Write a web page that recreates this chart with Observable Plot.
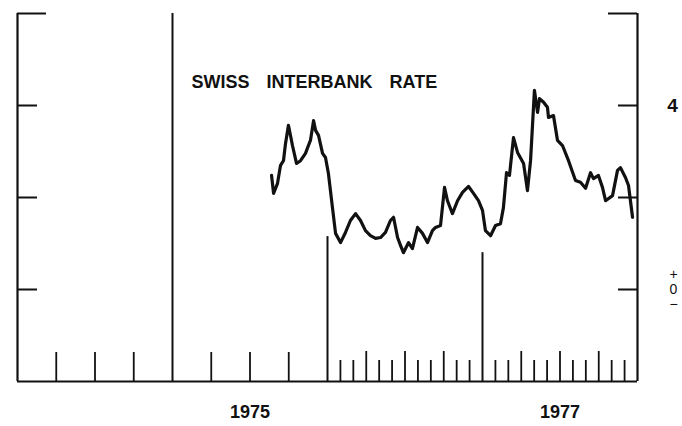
<!DOCTYPE html>
<html><head><meta charset="utf-8">
<script src="https://cdn.jsdelivr.net/npm/d3@7"></script>
<script src="https://cdn.jsdelivr.net/npm/@observablehq/plot@0.6"></script>
<style>
body{margin:0;background:#fff;}
#chart svg{display:block;}
#chart svg text{word-spacing:12px;}
</style></head><body><div id="chart"></div>
<script>
// ---- data ----
const titleText = "SWISS INTERBANK RATE";
// decimal-year dates of the plotted points
const dates = [1975.639,1975.652,1975.677,1975.697,1975.716,1975.729,1975.748,1975.774,1975.800,1975.826,
  1975.858,1975.877,1975.890,1975.910,1975.923,1975.942,1975.968,1975.987,1976.006,1976.032,
  1976.052,1976.084,1976.116,1976.148,1976.181,1976.213,1976.245,1976.277,1976.310,1976.342,
  1976.374,1976.406,1976.426,1976.452,1976.471,1976.490,1976.523,1976.548,1976.581,1976.613,
  1976.645,1976.677,1976.697,1976.729,1976.755,1976.774,1976.806,1976.839,1976.871,1976.910,
  1976.942,1976.974,1977.000,1977.019,1977.052,1977.084,1977.116,1977.135,1977.155,1977.174,
  1977.200,1977.226,1977.265,1977.290,1977.310,1977.335,1977.355,1977.368,1977.394,1977.419,
  1977.426,1977.458,1977.484,1977.516,1977.555,1977.600,1977.632,1977.665,1977.697,1977.716,
  1977.748,1977.774,1977.794,1977.839,1977.871,1977.890,1977.923,1977.942,1977.968];
const rates = [2.48,2.09,2.30,2.70,2.80,3.17,3.57,3.13,2.74,2.80,
  2.96,3.13,3.24,3.67,3.46,3.35,2.96,2.87,2.52,1.78,
  1.22,1.02,1.24,1.50,1.65,1.50,1.28,1.17,1.11,1.13,
  1.24,1.50,1.57,1.13,0.96,0.80,1.02,0.89,1.35,1.22,
  1.02,1.28,1.35,1.39,2.22,1.93,1.65,1.93,2.11,2.24,
  2.09,1.93,1.72,1.28,1.17,1.39,1.43,1.78,2.54,2.48,
  3.30,2.98,2.74,2.15,2.80,4.33,3.85,4.15,4.07,3.96,
  3.74,3.78,3.24,3.13,2.80,2.37,2.33,2.20,2.54,2.41,
  2.48,2.22,1.93,2.04,2.59,2.65,2.43,2.26,1.57];

const xDomain = [1974, 1978];
const yDomain = [-2, 6];
const yearLabelX = [1975.5, 1977.5];
const yearLabelText = ["1975", "1977"];
const quarterTicksEarly = [1974.25, 1974.5, 1974.75, 1975.25, 1975.5, 1975.75];
const quarterTicksLate = [1976.25, 1976.5, 1976.75, 1977.25, 1977.5, 1977.75];
const monthTicks = [1,2,4,5,7,8,10,11].flatMap(m => [1976 + m/12, 1977 + m/12]);
const yearLineX = [1976, 1977];
const yearLineTop = [1.15, 0.80];
const fullYearLine = [1975];
const sideTicks = [0, 2, 4];
const topTick = [6];
const rightNumberV = [4];
const rightNumberText = ["4"];
const rightSignV = [0];
const rightSignText = ["+\n0\n\u2212"];

const pts = dates.map((d, i) => ({date: d, rate: rates[i]}));
const yearLines = yearLineX.map((x, i) => ({x, top: yearLineTop[i]}));
const yearLabels = yearLabelX.map((x, i) => ({x, label: yearLabelText[i]}));
const ink = "#111";

const plot = Plot.plot({
  width: 682, height: 426,
  marginLeft: 17, marginRight: 45, marginTop: 13, marginBottom: 45,
  x: {domain: xDomain, axis: null},
  y: {domain: yDomain, axis: null},
  style: {fontFamily: "Liberation Sans, Arial, sans-serif", background: "#fff", color: ink},
  marks: [
    // frame: left, right, bottom
    Plot.ruleX(xDomain, {y1: yDomain[0], y2: yDomain[1], stroke: ink, strokeWidth: 2.2}),
    Plot.ruleY([yDomain[0]], {x1: xDomain[0], x2: xDomain[1], stroke: ink, strokeWidth: 2.2}),
    // left ticks
    Plot.tickY(sideTicks, {y: d => d, stroke: ink, strokeWidth: 2, insetRight: 600}),
    Plot.tickY(topTick, {y: d => d, stroke: ink, strokeWidth: 2, insetRight: 591}),
    // right ticks
    Plot.tickY(sideTicks, {y: d => d, stroke: ink, strokeWidth: 2, insetLeft: 601}),
    Plot.tickY(topTick, {y: d => d, stroke: ink, strokeWidth: 2, insetLeft: 591}),
    // bottom ticks
    Plot.tickX(quarterTicksEarly, {x: d => d, stroke: ink, strokeWidth: 1.8, insetTop: 339}),
    Plot.tickX(quarterTicksLate, {x: d => d, stroke: ink, strokeWidth: 1.8, insetTop: 338}),
    Plot.tickX(monthTicks, {x: d => d, stroke: ink, strokeWidth: 1.8, insetTop: 347}),
    Plot.tickX(fullYearLine, {x: d => d, stroke: ink, strokeWidth: 2}),
    Plot.ruleX(yearLines, {x: "x", y1: yDomain[0], y2: "top", stroke: ink, strokeWidth: 2}),
    // series
    Plot.line(pts, {x: "date", y: "rate", stroke: ink, strokeWidth: 3.2, strokeLinejoin: "round", strokeLinecap: "round"}),
    // texts
    Plot.text([titleText], {text: d => d, frameAnchor: "top-left", dx: 174, dy: 69, textAnchor: "start", lineAnchor: "middle", fontSize: 18, fontWeight: "bold", fill: ink}),
    Plot.text(yearLabels, {x: "x", text: "label", frameAnchor: "bottom", dy: 31, lineAnchor: "middle", fontSize: 18, fontWeight: "bold", fill: ink}),
    Plot.text(rightNumberV.map((v, i) => ({v, t: rightNumberText[i]})), {y: "v", text: "t", frameAnchor: "right", dx: 35, textAnchor: "middle", lineAnchor: "middle", fontSize: 19, fontWeight: "bold", fill: ink}),
    Plot.text(rightSignV.map((v, i) => ({v, t: rightSignText[i]})), {y: "v", text: "t", frameAnchor: "right", dx: 36, textAnchor: "middle", lineAnchor: "middle", fontSize: 14, lineHeight: 1.08, fill: ink})
  ]
});
document.getElementById("chart").appendChild(plot);
</script>
</body></html>
